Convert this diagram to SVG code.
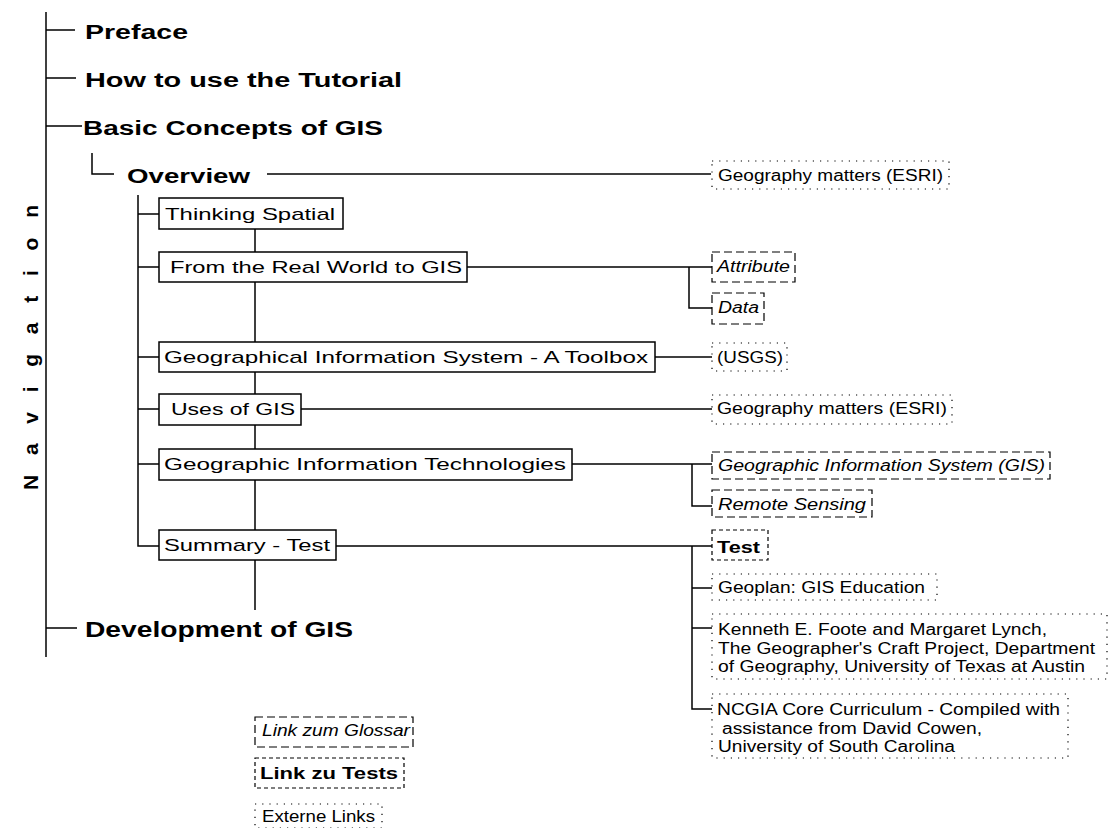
<svg xmlns="http://www.w3.org/2000/svg" width="1111" height="828" viewBox="0 0 1111 828">
  <style>
    .bg { fill: #fff; }
    .ln { fill: none; stroke: #000; stroke-width: 1.5; }
    .box { fill: #fff; stroke: #000; stroke-width: 1.5; }
    .ext { fill: none; stroke: #000; stroke-width: 1.2; stroke-dasharray: 1.2 6; }
    .glo { fill: none; stroke: #000; stroke-width: 1.2; stroke-dasharray: 8 4; }
    .tst { fill: none; stroke: #000; stroke-width: 1.2; stroke-dasharray: 4 3; }
    .h1 { font-family: "Liberation Sans", Arial, sans-serif; font-weight: bold; font-size: 20px; fill: #000; }
    .h2 { font-family: "Liberation Sans", Arial, sans-serif; font-weight: bold; font-size: 22px; fill: #000; }
    .nav { font-family: "Liberation Sans", Arial, sans-serif; font-weight: bold; font-size: 21px; fill: #000; }
    .lbl { font-family: "Liberation Sans", Arial, sans-serif; font-size: 17px; fill: #000; }
    .lnk { font-family: "Liberation Sans", Arial, sans-serif; font-size: 16px; fill: #000; }
    .it { font-family: "Liberation Sans", Arial, sans-serif; font-style: italic; font-size: 16px; fill: #000; }
    .bt { font-family: "Liberation Sans", Arial, sans-serif; font-weight: bold; font-size: 17px; fill: #000; }
  </style>
  <rect class="bg" x="0" y="0" width="1111" height="828"/>

  <!-- tree connectors -->
  <g id="connectors">
    <!-- main navigation spine -->
    <path class="ln" d="M46 12 V657"/>
    <path class="ln" d="M46 30 H75 M46 78 H76 M46 126 H82 M46 628 H77"/>
    <!-- overview hook and its link -->
    <path class="ln" d="M92 153 V174 H114"/>
    <path class="ln" d="M267 174 H711"/>
    <!-- overview children spine -->
    <path class="ln" d="M138 195 V546 H159"/>
    <path class="ln" d="M138 214 H159 M138 267 H159 M138 357 H159 M138 409 H159 M138 464 H159"/>
    <!-- vertical chain through the boxes -->
    <path class="ln" d="M255 229 V252 M255 282 V342 M255 372 V394 M255 425 V449 M255 480 V530 M255 560 V610"/>
    <!-- links to the right -->
    <path class="ln" d="M467 267 H712 M689 267 V308 H712"/>
    <path class="ln" d="M655 357 H712"/>
    <path class="ln" d="M301 409 H712"/>
    <path class="ln" d="M572 464 H712 M692 464 V506 H712"/>
    <path class="ln" d="M336 546 H712 M692 546 V709 H712 M692 588 H712 M692 628 H712"/>
  </g>

  <!-- vertical title -->
  <g id="navigation">
    <text class="nav" transform="translate(38 490) rotate(-90)" textLength="285" lengthAdjust="spacing">Navigation</text>
  </g>

  <!-- top level entries -->
  <g id="preface"><text class="h1" x="85" y="39" textLength="103" lengthAdjust="spacingAndGlyphs">Preface</text></g>
  <g id="how-to-use"><text class="h1" x="85" y="87" textLength="317" lengthAdjust="spacingAndGlyphs">How to use the Tutorial</text></g>
  <g id="basic-concepts"><text class="h1" x="83" y="135" textLength="300" lengthAdjust="spacingAndGlyphs">Basic Concepts of GIS</text></g>
  <g id="overview"><text class="h1" x="127" y="183" textLength="123" lengthAdjust="spacingAndGlyphs">Overview</text></g>
  <g id="development"><text class="h2" x="85" y="637" textLength="268" lengthAdjust="spacingAndGlyphs">Development of GIS</text></g>

  <!-- overview chapters -->
  <g id="thinking-spatial">
    <rect class="box" x="159" y="198" width="184" height="31"/>
    <text class="lbl" x="165" y="220" textLength="170" lengthAdjust="spacingAndGlyphs">Thinking Spatial</text>
  </g>
  <g id="real-world">
    <rect class="box" x="159" y="252" width="308" height="30"/>
    <text class="lbl" x="170" y="273" textLength="292" lengthAdjust="spacingAndGlyphs">From the Real World to GIS</text>
  </g>
  <g id="gis-toolbox">
    <rect class="box" x="159" y="342" width="496" height="30"/>
    <text class="lbl" x="164" y="363" textLength="484" lengthAdjust="spacingAndGlyphs">Geographical Information System - A Toolbox</text>
  </g>
  <g id="uses-of-gis">
    <rect class="box" x="159" y="394" width="142" height="31"/>
    <text class="lbl" x="171" y="415" textLength="124" lengthAdjust="spacingAndGlyphs">Uses of GIS</text>
  </g>
  <g id="git">
    <rect class="box" x="159" y="449" width="413" height="31"/>
    <text class="lbl" x="164" y="470" textLength="402" lengthAdjust="spacingAndGlyphs">Geographic Information Technologies</text>
  </g>
  <g id="summary-test">
    <rect class="box" x="159" y="530" width="177" height="30"/>
    <text class="lbl" x="164" y="551" textLength="166" lengthAdjust="spacingAndGlyphs">Summary - Test</text>
  </g>

  <!-- linked resources -->
  <g id="esri-1">
    <rect class="ext" x="712" y="161" width="237" height="28"/>
    <text class="lnk" x="718" y="181" textLength="225" lengthAdjust="spacingAndGlyphs">Geography matters (ESRI)</text>
  </g>
  <g id="attribute">
    <rect class="glo" x="712" y="252" width="83" height="30"/>
    <text class="it" x="717" y="272" textLength="73" lengthAdjust="spacingAndGlyphs">Attribute</text>
  </g>
  <g id="data">
    <rect class="glo" x="712" y="293" width="52" height="31"/>
    <text class="it" x="718" y="313" textLength="41" lengthAdjust="spacingAndGlyphs">Data</text>
  </g>
  <g id="usgs">
    <rect class="ext" x="712" y="343" width="75" height="28"/>
    <text class="lnk" x="717" y="363" textLength="66" lengthAdjust="spacingAndGlyphs">(USGS)</text>
  </g>
  <g id="esri-2">
    <rect class="ext" x="712" y="395" width="240" height="29"/>
    <text class="lnk" x="717" y="414" textLength="230" lengthAdjust="spacingAndGlyphs">Geography matters (ESRI)</text>
  </g>
  <g id="gis-glossary">
    <rect class="glo" x="712" y="452" width="338" height="27"/>
    <text class="it" x="718" y="471" textLength="327" lengthAdjust="spacingAndGlyphs">Geographic Information System (GIS)</text>
  </g>
  <g id="remote-sensing">
    <rect class="glo" x="712" y="490" width="160" height="27"/>
    <text class="it" x="718" y="510" textLength="148" lengthAdjust="spacingAndGlyphs">Remote Sensing</text>
  </g>
  <g id="test">
    <rect class="tst" x="712" y="530" width="56" height="30"/>
    <text class="bt" x="717" y="553" textLength="43" lengthAdjust="spacingAndGlyphs">Test</text>
  </g>
  <g id="geoplan">
    <rect class="ext" x="712" y="574" width="225" height="26"/>
    <text class="lnk" x="718" y="593" textLength="207" lengthAdjust="spacingAndGlyphs">Geoplan: GIS Education</text>
  </g>
  <g id="foote-lynch">
    <rect class="ext" x="712" y="614" width="395" height="65"/>
    <text class="lnk" x="718" y="635" textLength="329" lengthAdjust="spacingAndGlyphs">Kenneth E. Foote and Margaret Lynch,</text>
    <text class="lnk" x="718" y="654" textLength="377" lengthAdjust="spacingAndGlyphs">The Geographer's Craft Project, Department</text>
    <text class="lnk" x="718" y="672" textLength="367" lengthAdjust="spacingAndGlyphs">of Geography, University of Texas at Austin</text>
  </g>
  <g id="ncgia">
    <rect class="ext" x="712" y="694" width="356" height="64"/>
    <text class="lnk" x="717" y="715" textLength="343" lengthAdjust="spacingAndGlyphs">NCGIA Core Curriculum - Compiled with</text>
    <text class="lnk" x="722" y="734" textLength="260" lengthAdjust="spacingAndGlyphs">assistance from David Cowen,</text>
    <text class="lnk" x="718" y="752" textLength="237" lengthAdjust="spacingAndGlyphs">University of South Carolina</text>
  </g>

  <!-- legend -->
  <g id="legend-glossary">
    <rect class="glo" x="255" y="717" width="158" height="30"/>
    <text class="it" x="262" y="736" textLength="148" lengthAdjust="spacingAndGlyphs">Link zum Glossar</text>
  </g>
  <g id="legend-tests">
    <rect class="tst" x="255" y="758" width="149" height="30"/>
    <text class="bt" x="260" y="779" textLength="138" lengthAdjust="spacingAndGlyphs">Link zu Tests</text>
  </g>
  <g id="legend-external">
    <rect class="ext" x="255" y="804" width="127" height="24"/>
    <text class="lnk" x="262" y="822" textLength="113" lengthAdjust="spacingAndGlyphs">Externe Links</text>
  </g>
</svg>
